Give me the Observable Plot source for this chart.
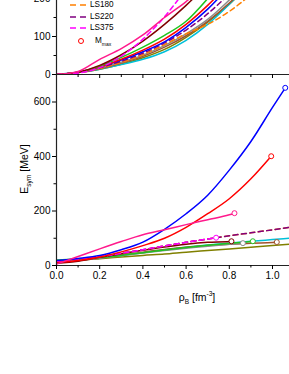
<!DOCTYPE html>
<html>
<head>
<meta charset="utf-8">
<script src="https://cdn.jsdelivr.net/npm/d3@7"></script>
<script src="https://cdn.jsdelivr.net/npm/@observablehq/plot@0.6"></script>
<style>
html,body{margin:0;padding:0;background:#fff;overflow:hidden;}
#wrap{position:relative;width:289px;height:374px;overflow:hidden;font-family:"Liberation Sans",Arial,sans-serif;color:#000;}
#top,#bot{position:absolute;left:0;width:300px;}
#top svg,#bot svg{max-width:none !important;}
#top{top:-21px;}
#bot{top:60px;}
.lab{position:absolute;white-space:nowrap;font-size:10.5px;line-height:1;}
.leg{position:absolute;white-space:nowrap;font-size:8.2px;line-height:1;}
sub,sup{line-height:0;}
</style>
</head>
<body>
<div id="wrap">
  <div id="top"></div>
  <div id="bot"></div>
  <div id="legend"></div>
  <div class="lab" id="ylab" style="left:24px;top:169px;transform:translate(-50%,-50%) rotate(-90deg);">E<sub style="font-size:6.5px;">sym</sub> [MeV]</div>
  <div class="lab" id="xlab" style="left:197px;top:297px;transform:translate(-50%,-50%);">ρ<sub style="font-size:6.5px;">B</sub> [fm<sup style="font-size:6.5px;">-3</sup>]</div>
</div>
<script>
// ---------- data: upper panel (curves leaving the visible window) ----------
const rhoTop = [0, 0.1, 0.2, 0.3, 0.4, 0.5, 0.6, 0.7, 0.8, 0.9];
const topPink   = [0, 8, 40, 68, 104, 150, 192, 240];
const topLS375  = [0, 4, 18, 48, 93, 152, 225];
const topMaroon = [0, 6, 24, 52, 88, 132, 182, 238];
const topGreen  = [0, 6, 22, 45, 72, 103, 140, 200, 270];
const topRed    = [0, 6, 20, 40, 64, 93, 132, 182, 240];
const topBlue   = [0, 6, 20, 38, 60, 86, 124, 172, 232];
const topLS220  = [0, 5, 18, 35, 56, 83, 117, 160, 212];
const topGray   = [0, 5, 17, 32, 51, 76, 107, 145, 196, 255];
const topSienna = [0, 5, 15, 30, 48, 72, 102, 140, 188, 245];
const topOlive  = [0, 5, 14, 27, 44, 66, 98, 138, 185, 240];
const topCyan   = [0, 6, 14, 26, 40, 60, 90, 132, 185, 245];
const topLS180  = [0, 5, 16, 32, 52, 79, 107, 132, 166, 210];

// ---------- data: lower panel, symmetry energy ----------
const rhoSym = [0, 0.1, 0.2, 0.3, 0.4, 0.5, 0.6, 0.7, 0.8, 0.9, 1.0, 1.1];
const symBlue   = [18, 26, 37, 58, 86, 133, 190, 258, 350, 455, 580];
const symRed    = [10, 18, 31, 50, 73, 100, 140, 190, 245, 318];
const symPink   = [5, 33, 61, 88, 113, 131, 150, 168, 186];
const symLS375  = [14, 22, 33, 45, 58, 72, 85, 97];
const symLS180  = [14, 22, 33, 45, 58, 72, 85, 97, 109, 120, 131, 143];
const symLS220  = [14, 22, 33, 45, 58, 72, 85, 97, 109, 120, 131, 143];
const symMaroon = [8, 16, 30, 43, 56, 68, 78, 85, 88];
const symGray   = [12, 18, 27, 36, 46, 55, 63, 71, 78];
const symGreen  = [20, 24, 29, 37, 47, 57, 66, 74, 81, 88];
const symSienna = [10, 17, 27, 38, 49, 59, 67, 73, 78, 82, 84];
const symCyan   = [15, 20, 28, 37, 47, 58, 67, 75, 82, 89, 95, 101];
const symOlive  = [16, 20, 25, 31, 37, 42, 49, 55, 61, 67, 73, 79];

// maximum-mass points
const mmaxName = ["blue", "red", "pink", "LS375", "maroon", "gray", "green", "sienna"];
const mmaxRho  = [1.059, 0.994, 0.824, 0.739, 0.81, 0.863, 0.909, 1.02];
const mmaxSym  = [652, 401, 192, 102, 89, 82, 89, 86];

// legend
const legendNames = ["LS180", "LS220", "LS375"];

// ---------- styles ----------
const seriesStyle = {
  olive:  {color: "#808000", dash: null},
  cyan:   {color: "#00c0d8", dash: null},
  sienna: {color: "#a0522d", dash: null},
  gray:   {color: "#8c8c8c", dash: null},
  green:  {color: "#1fc51f", dash: null},
  maroon: {color: "#800000", dash: null},
  LS180:  {color: "#ff8000", dash: "5,3.5"},
  LS220:  {color: "#800080", dash: "5,3.5"},
  LS375:  {color: "#ff00ff", dash: "5,3.5"},
  blue:   {color: "#0000ff", dash: null},
  red:    {color: "#ff0000", dash: null},
  pink:   {color: "#ff1a8c", dash: null}
};
const topSeries = {olive: topOlive, cyan: topCyan, sienna: topSienna, gray: topGray, LS180: topLS180,
  LS220: topLS220, blue: topBlue, red: topRed, green: topGreen, maroon: topMaroon, LS375: topLS375, pink: topPink};
const symSeries = {olive: symOlive, cyan: symCyan, sienna: symSienna, gray: symGray, green: symGreen, maroon: symMaroon,
  LS180: symLS180, LS220: symLS220, LS375: symLS375, blue: symBlue, red: symRed, pink: symPink};

const font = '"Liberation Sans", Arial, sans-serif';
const common = {
  width: 300, marginLeft: 56, marginRight: 6.4,
  x: {domain: [0, 1.1]},
  style: {background: "transparent", fontFamily: font, fontSize: "10px", color: "#000", overflow: "visible", maxWidth: "none"}
};

function lineMarks(seriesMap, rhoArr, withEnd) {
  const marks = [];
  for (const name of Object.keys(seriesMap)) {
    const vals = seriesMap[name];
    const rows = vals.map((v, i) => ({rho: rhoArr[i], v}));
    if (withEnd) {
      const k = mmaxName.indexOf(name);
      if (k >= 0) rows.push({rho: mmaxRho[k], v: mmaxSym[k]});
    }
    const st = seriesStyle[name];
    const opts = {x: "rho", y: "v", stroke: st.color, strokeWidth: 1.5, curve: "monotone-x", clip: true};
    if (st.dash) opts.strokeDasharray = st.dash;
    marks.push(Plot.line(rows, opts));
  }
  return marks;
}

// ---------- upper panel ----------
const topPlot = Plot.plot({
  ...common,
  height: 107, marginTop: 0, marginBottom: 12,
  y: {domain: [0, 250]},
  marks: [
    ...lineMarks(topSeries, rhoTop, false),
    Plot.ruleX([0], {stroke: "#222", strokeWidth: 1.2}),
    Plot.ruleY([0], {stroke: "#222", strokeWidth: 1.2}),
    Plot.axisY({ticks: [0, 100, 200], tickSize: 4, tickPadding: 2, label: null}),
    Plot.axisY({ticks: [50, 150], tickSize: 2.5, tickFormat: () => "", label: null}),
    Plot.axisX({ticks: [0.2, 0.4, 0.6, 0.8, 1.0], tickSize: 4, tickFormat: () => "", label: null}),
    Plot.axisX({ticks: [0.1, 0.3, 0.5, 0.7, 0.9, 1.1], tickSize: 3, tickFormat: () => "", label: null})
  ]
});
document.getElementById("top").append(topPlot);

// ---------- lower panel ----------
const mmaxRows = mmaxName.map((n, i) => ({rho: mmaxRho[i], v: mmaxSym[i], c: seriesStyle[n].color}));
const botPlot = Plot.plot({
  ...common,
  height: 225, marginTop: 14.25, marginBottom: 20,
  y: {domain: [0, 700]},
  color: {type: "identity"},
  marks: [
    ...lineMarks(symSeries, rhoSym, true),
    Plot.dot(mmaxRows, {x: "rho", y: "v", r: 2.5, stroke: "c", fill: "white", strokeWidth: 1, clip: true}),
    Plot.ruleX([0], {stroke: "#222", strokeWidth: 1.2}),
    Plot.ruleY([0], {stroke: "#222", strokeWidth: 1.2}),
    Plot.axisY({ticks: [0, 200, 400, 600], tickSize: 4, tickPadding: 2, label: null}),
    Plot.axisY({ticks: [100, 300, 500], tickSize: 2.5, tickFormat: () => "", label: null}),
    Plot.axisX({ticks: [0, 0.2, 0.4, 0.6, 0.8, 1.0], tickSize: 4, tickPadding: 2, tickFormat: d3.format(".1f"), label: null}),
    Plot.axisX({ticks: [0.1, 0.3, 0.5, 0.7, 0.9, 1.1], tickSize: 2.5, tickFormat: () => "", label: null})
  ]
});
document.getElementById("bot").append(botPlot);

// ---------- legend (inside upper panel, top-left) ----------
const legRowY = [5, 16.7, 28.3, 40.7];
const leg = document.getElementById("legend");
legendNames.forEach((name, i) => {
  const st = seriesStyle[name];
  const y = legRowY[i];
  leg.insertAdjacentHTML("beforeend",
    `<svg style="position:absolute;left:68px;top:${y - 3}px" width="22" height="6">
       <line x1="2" x2="20" y1="3" y2="3" stroke="${st.color}" stroke-width="1.5" stroke-dasharray="6,4"/>
     </svg>
     <div class="leg" style="left:90px;top:${y}px;transform:translateY(-50%)">${name}</div>`);
});
{
  const y = legRowY[3];
  leg.insertAdjacentHTML("beforeend",
    `<svg style="position:absolute;left:76px;top:${y - 4}px" width="10" height="8">
       <circle cx="5" cy="4" r="2.5" fill="white" stroke="#ff0000" stroke-width="1"/>
     </svg>
     <div class="leg" style="left:95px;top:${y}px;transform:translateY(-50%)">M<sub style="font-size:5px;">max</sub></div>`);
}
</script>
</body>
</html>
